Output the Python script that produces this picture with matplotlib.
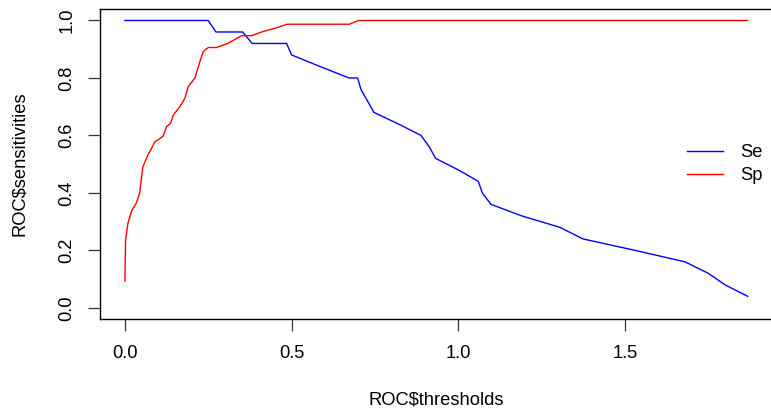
import numpy as np
import matplotlib as mpl
mpl.use('agg')
import matplotlib.pyplot as plt

# ROC curve: thresholds vs sensitivity / specificity
se_thr = [0.0, 0.25, 0.273, 0.353, 0.382, 0.485, 0.50, 0.585, 0.672, 0.698, 0.708,
          0.747, 0.82, 0.888, 0.913, 0.932, 1.0, 1.06, 1.072, 1.098, 1.19, 1.305,
          1.373, 1.53, 1.68, 1.75, 1.80, 1.868]
se_val = [1.0, 1.0, 0.96, 0.96, 0.92, 0.92, 0.88, 0.84, 0.80, 0.80, 0.76,
          0.68, 0.64, 0.60, 0.56, 0.52, 0.48, 0.44, 0.40, 0.36, 0.32, 0.28,
          0.24, 0.20, 0.16, 0.12, 0.08, 0.04]

sp_thr = [0.0, 0.002, 0.009, 0.021, 0.034, 0.044, 0.054, 0.069, 0.08, 0.09, 0.099,
          0.115, 0.125, 0.137, 0.145, 0.165, 0.18, 0.19, 0.21, 0.225, 0.235, 0.25,
          0.275, 0.31, 0.35, 0.38, 0.41, 0.45, 0.487, 0.673, 0.70, 1.868]
sp_val = [0.093, 0.236, 0.294, 0.34, 0.364, 0.399, 0.491, 0.532, 0.555, 0.578, 0.584,
          0.598, 0.631, 0.642, 0.671, 0.70, 0.73, 0.77, 0.80, 0.857, 0.892, 0.906,
          0.906, 0.921, 0.947, 0.947, 0.96, 0.973, 0.987, 0.987, 1.0, 1.0]

plt.rcParams['font.family'] = ['Liberation Sans', 'DejaVu Sans']
fs = 13.2

W, H = 771, 411
fig = plt.figure(figsize=(W / 100, H / 100), dpi=100)
# axes box in pixels: left 100, right ~772.6, top 9, bottom 319.3
ax = fig.add_axes([100 / W, (H - 319.3) / H, (772.6 - 100) / W, (319.3 - 9) / H])

ax.plot(se_thr, se_val, color='#0000FF', lw=1.0, label='Se')
ax.plot(sp_thr, sp_val, color='#FF0000', lw=1.0, label='Sp')

# R style 4% padding on both axes
xr = max(se_thr) - 0.0
ax.set_xlim(0.0 - 0.04 * xr, max(se_thr) + 0.04 * xr)
ax.set_ylim(-0.04, 1.04)

ax.set_xticks([0.0, 0.5, 1.0, 1.5])
ax.set_xticklabels(['0.0', '0.5', '1.0', '1.5'])
ax.set_yticks([0.0, 0.2, 0.4, 0.6, 0.8, 1.0])
ax.set_yticklabels(['0.0', '0.2', '0.4', '0.6', '0.8', '1.0'], rotation=90, va='center')
ax.tick_params(axis='both', direction='out', length=8.6, width=0.9, color='#333333',
               labelsize=fs)
ax.tick_params(axis='x', pad=10)
ax.tick_params(axis='y', pad=9)
for sp in ax.spines.values():
    sp.set_linewidth(1.0)
    sp.set_color('black')

fig.text(436 / W, 1 - 400 / H, 'ROC$thresholds', ha='center', va='center', fontsize=fs)
fig.text(20 / W, 1 - 164 / H, 'ROC$sensitivities', ha='center', va='center',
         rotation=90, fontsize=fs)

ax.legend(loc='upper left', bbox_to_anchor=(687 / W, 1 - 144 / H),
          bbox_transform=fig.transFigure, frameon=False, fontsize=fs,
          handlelength=1.97, handletextpad=0.92, labelspacing=0.33,
          borderpad=0, borderaxespad=0)

fig.savefig('out.png', dpi=100)
